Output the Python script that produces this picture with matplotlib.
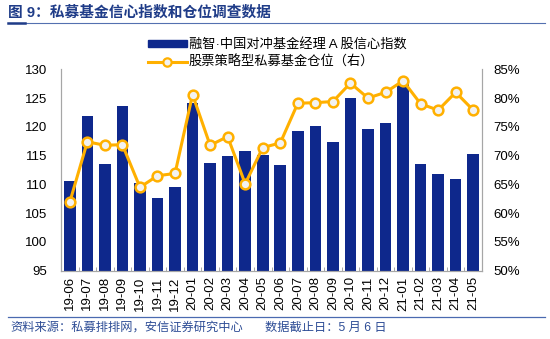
import matplotlib
matplotlib.use("Agg")
import matplotlib.pyplot as plt
from matplotlib.lines import Line2D
from matplotlib.patches import Patch
import numpy as np

plt.rcParams['font.family'] = ['Liberation Sans', 'Noto Sans CJK SC', 'DejaVu Sans']

months = ["19-06", "19-07", "19-08", "19-09", "19-10", "19-11", "19-12",
          "20-01", "20-02", "20-03", "20-04", "20-05", "20-06", "20-07",
          "20-08", "20-09", "20-10", "20-11", "20-12", "21-01", "21-02",
          "21-03", "21-04", "21-05"]
confidence = [110.6, 121.9, 113.5, 123.7, 110.3, 107.7, 109.6, 124.1,
              113.8, 115.0, 115.8, 115.1, 113.4, 119.3, 120.2, 117.3,
              125.0, 119.7, 120.6, 127.4, 113.5, 111.8, 111.0, 115.2]
position = [61.9, 72.4, 71.8, 71.9, 64.5, 66.5, 66.9, 80.6,
            71.8, 73.3, 65.1, 71.4, 72.2, 79.1, 79.2, 79.4,
            82.6, 80.0, 81.0, 83.0, 79.0, 77.9, 81.0, 77.9]
bar_label = "融智·中国对冲基金经理 A 股信心指数"
line_label = "股票策略型私募基金仓位（右）"
title = "图 9：私募基金信心指数和仓位调查数据"
source_left = "资料来源：私募排排网，安信证券研究中心"
source_right = "数据截止日：5 月 6 日"

W, H = 550, 339
fig = plt.figure(figsize=(W / 100, H / 100), dpi=100)

def px(x0, y0, x1, y1):
    return [x0 / W, 1 - y1 / H, (x1 - x0) / W, (y1 - y0) / H]

ax = fig.add_axes(px(61, 69.3, 482, 270.7))
x = np.arange(len(months))
bar_color = "#0E288C"
line_color = "#FFB000"
ax.bar(x, confidence, width=0.66, color=bar_color, zorder=2)
ax.set_ylim(95, 130)
ax.set_yticks(np.arange(95, 131, 5))
ax.set_xlim(-0.47, len(months) - 0.53)
ax.set_xticks(x)
ax.set_xticklabels(months, rotation=90, fontsize=9.5)
ax.set_xticks(np.arange(-0.5, len(months), 1), minor=True)
ax.tick_params(axis='x', which='major', length=0, pad=4)
ax.tick_params(axis='x', which='minor', length=3, direction='in', color='#999999')
ax.tick_params(axis='y', length=0, labelsize=9.5, pad=10)

ax2 = ax.twinx()
ax2.plot(x, position, color=line_color, lw=2.2, marker='o', markersize=7,
         markerfacecolor='#F2F2F2', markeredgecolor=line_color, markeredgewidth=1.8, zorder=3)
ax2.set_ylim(50, 85)
ax2.set_yticks(np.arange(50, 86, 5))
ax2.set_yticklabels([f"{v}%" for v in range(50, 86, 5)])
ax2.tick_params(axis='y', length=0, labelsize=9.5, pad=8)

for a in (ax, ax2):
    a.spines['top'].set_visible(False)
    for s in ('left', 'right', 'bottom'):
        a.spines[s].set_color('#A6A6A6')
        a.spines[s].set_linewidth(0.8)

handles = [Patch(facecolor=bar_color, edgecolor=bar_color),
           Line2D([0], [0], color=line_color, lw=2.2, marker='o', markersize=6,
                  markerfacecolor='#F2F2F2', markeredgecolor=line_color, markeredgewidth=1.6)]
leg = fig.legend(handles, [bar_label, line_label], loc='upper left',
                 bbox_to_anchor=(143 / W, 1 - 33 / H), frameon=False,
                 fontsize=9.5, handlelength=2.9, handleheight=0.4,
                 handletextpad=0.15, labelspacing=0.35, borderaxespad=0)

title_color = "#1F3C88"
fig.text(8 / W, 1 - 12 / H, title, fontsize=10.6, fontweight='bold',
         color=title_color, va='center', ha='left')
fig.add_artist(Line2D([8 / W, 545 / W], [1 - 23 / H] * 2, color="#5470B0", lw=0.8))
fig.add_artist(Line2D([8 / W, 25 / W], [1 - 23 / H] * 2, color=title_color, lw=1.8))
fig.add_artist(Line2D([8 / W, 545 / W], [1 - 317 / H] * 2, color="#4A6AB0", lw=0.9))
fig.text(10 / W, 1 - 328 / H, source_left, fontsize=8.8, color="#2E4D96",
         va='center', ha='left')
fig.text(265 / W, 1 - 328 / H, source_right, fontsize=8.8, color="#2E4D96",
         va='center', ha='left')

fig.savefig("out.png", dpi=100)
